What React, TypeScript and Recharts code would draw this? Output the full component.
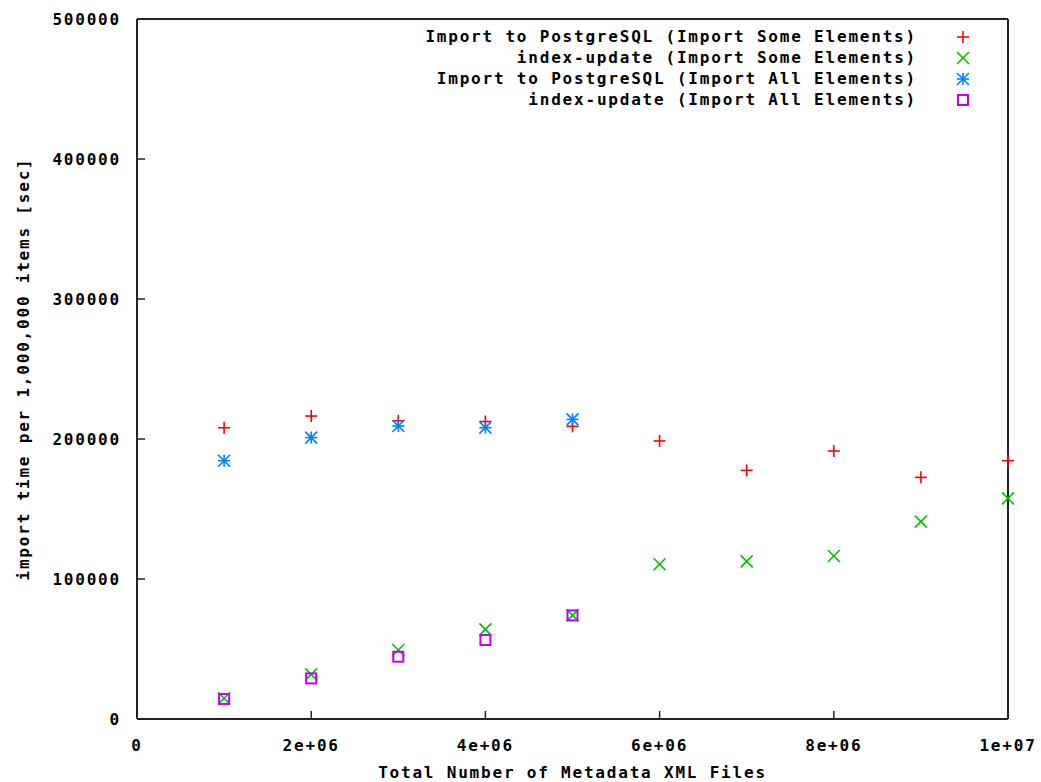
import React from 'react'
import { ScatterChart, Scatter, XAxis, YAxis, Legend } from 'recharts'

// x positions (number of metadata XML files)
const xSome = [1e6, 2e6, 3e6, 4e6, 5e6, 6e6, 7e6, 8e6, 9e6, 1e7]
const xAll = [1e6, 2e6, 3e6, 4e6, 5e6]

// seconds per 1,000,000 items
const importSome = [208000, 216400, 213000, 212500, 209000, 198600, 177600, 191400, 172600, 184500]
const indexSome = [14800, 31900, 49300, 64000, 74000, 110500, 112600, 116400, 141000, 157600]
const importAll = [184500, 201000, 209300, 208100, 214000]
const indexAll = [14300, 29000, 44500, 56400, 74000]

const xTicks = [0, 2e6, 4e6, 6e6, 8e6, 1e7]
const xTickLabels = ['0', '2e+06', '4e+06', '6e+06', '8e+06', '1e+07']
const yTicks = [0, 100000, 200000, 300000, 400000, 500000]
const yTickLabels = ['0', '100000', '200000', '300000', '400000', '500000']

const FONT = '"DejaVu Sans Mono", monospace'
const FRAME = '#222'

const toPoints = (xs: number[], ys: number[]) => xs.map((x, i) => ({ x, y: ys[i] }))

type Mark = 'plus' | 'cross' | 'star' | 'square'

function Marker({ kind, cx, cy, color }: { kind: Mark; cx: number; cy: number; color: string }) {
  const r = 6
  const sw = 1.6
  if (kind === 'plus')
    return (
      <g stroke={color} strokeWidth={sw}>
        <line x1={cx - r} y1={cy} x2={cx + r} y2={cy} />
        <line x1={cx} y1={cy - r} x2={cx} y2={cy + r} />
      </g>
    )
  if (kind === 'cross')
    return (
      <g stroke={color} strokeWidth={sw}>
        <line x1={cx - r} y1={cy - r} x2={cx + r} y2={cy + r} />
        <line x1={cx - r} y1={cy + r} x2={cx + r} y2={cy - r} />
      </g>
    )
  if (kind === 'star')
    return (
      <g stroke={color} strokeWidth={sw}>
        <line x1={cx - r} y1={cy} x2={cx + r} y2={cy} />
        <line x1={cx} y1={cy - r} x2={cx} y2={cy + r} />
        <line x1={cx - r} y1={cy - r} x2={cx + r} y2={cy + r} />
        <line x1={cx - r} y1={cy + r} x2={cx + r} y2={cy - r} />
      </g>
    )
  return <rect x={cx - 5} y={cy - 5} width={10} height={10} fill="none" stroke={color} strokeWidth={sw + 0.4} />
}

const series: { name: string; color: string; kind: Mark; data: { x: number; y: number }[] }[] = [
  { name: 'Import to PostgreSQL (Import Some Elements)', color: '#ff0000', kind: 'plus', data: toPoints(xSome, importSome) },
  { name: 'index-update (Import Some Elements)', color: '#00c000', kind: 'cross', data: toPoints(xSome, indexSome) },
  { name: 'Import to PostgreSQL (Import All Elements)', color: '#0080ff', kind: 'star', data: toPoints(xAll, importAll) },
  { name: 'index-update (Import All Elements)', color: '#c000ff', kind: 'square', data: toPoints(xAll, indexAll) },
]

const textStyle = { fontFamily: FONT, fontWeight: 700, fontSize: 16, letterSpacing: 1.8, fill: '#000' }

function BottomTick(props: any) {
  const { x, y, payload } = props
  const i = xTicks.indexOf(payload.value)
  return (
    <g>
      {i > 0 && i < xTicks.length - 1 && <line x1={x} y1={y} x2={x} y2={y - 8} stroke={FRAME} strokeWidth={1.5} />}
      <text x={x} y={y + 26} textAnchor="middle" dominantBaseline="central" style={textStyle}>
        {xTickLabels[i]}
      </text>
    </g>
  )
}

function TopTick(props: any) {
  const { x, y, payload } = props
  const i = xTicks.indexOf(payload.value)
  if (i <= 0 || i >= xTicks.length - 1) return <g />
  return <line x1={x} y1={y} x2={x} y2={y + 8} stroke={FRAME} strokeWidth={1.5} />
}

function LeftTick(props: any) {
  const { x, y, payload } = props
  const i = yTicks.indexOf(payload.value)
  return (
    <g>
      {i > 0 && i < yTicks.length - 1 && <line x1={x} y1={y} x2={x + 8} y2={y} stroke={FRAME} strokeWidth={1.5} />}
      <text x={x - 16} y={y} textAnchor="end" dominantBaseline="central" style={textStyle}>
        {yTickLabels[i]}
      </text>
    </g>
  )
}

function RightTick(props: any) {
  const { x, y, payload } = props
  const i = yTicks.indexOf(payload.value)
  if (i <= 0 || i >= yTicks.length - 1) return <g />
  return <line x1={x} y1={y} x2={x - 8} y2={y} stroke={FRAME} strokeWidth={1.5} />
}

function LegendBox() {
  return (
    <div style={{ fontFamily: FONT, fontWeight: 700, fontSize: 16, letterSpacing: 1.8, color: '#000' }}>
      {series.map((s) => (
        <div key={s.name} style={{ display: 'flex', justifyContent: 'flex-end', alignItems: 'center', height: 21 }}>
          <span style={{ whiteSpace: 'pre' }}>{s.name}</span>
          <svg width={16} height={16} style={{ marginLeft: 38 }}>
            <Marker kind={s.kind} cx={8} cy={8} color={s.color} />
          </svg>
        </div>
      ))}
    </div>
  )
}

export default function App() {
  return (
    <div style={{ position: 'absolute', left: 0, top: 0 }}>
      <ScatterChart width={1041} height={782} margin={{ top: 18, right: 32, bottom: 20, left: 17 }} style={{ background: '#fff' }}>
        <XAxis
          type="number"
          dataKey="x"
          xAxisId="bottom"
          domain={[0, 1e7]}
          ticks={xTicks}
          height={43}
          tickSize={0}
          tickMargin={0}
          tickLine={false}
          axisLine={{ stroke: FRAME, strokeWidth: 2 }}
          tick={<BottomTick />}
          interval={0}
          label={(p: any) => (
            <text
              x={p.viewBox.x + p.viewBox.width / 2}
              y={p.viewBox.y + 53}
              textAnchor="middle"
              dominantBaseline="central"
              style={textStyle}
            >
              Total Number of Metadata XML Files
            </text>
          )}
        />
        <XAxis
          type="number"
          dataKey="x"
          xAxisId="top"
          orientation="top"
          domain={[0, 1e7]}
          ticks={xTicks}
          height={1}
          tickSize={0}
          tickMargin={0}
          tickLine={false}
          axisLine={{ stroke: FRAME, strokeWidth: 2 }}
          tick={<TopTick />}
          interval={0}
        />
        <YAxis
          type="number"
          dataKey="y"
          yAxisId="left"
          domain={[0, 500000]}
          ticks={yTicks}
          width={120}
          tickSize={0}
          tickMargin={0}
          tickLine={false}
          axisLine={{ stroke: FRAME, strokeWidth: 2 }}
          tick={<LeftTick />}
          interval={0}
          label={(p: any) => (
            <text
              x={p.viewBox.x + 6}
              y={p.viewBox.y + p.viewBox.height / 2}
              textAnchor="middle"
              dominantBaseline="central"
              transform={`rotate(-90, ${p.viewBox.x + 6}, ${p.viewBox.y + p.viewBox.height / 2})`}
              style={textStyle}
            >
              import time per 1,000,000 items [sec]
            </text>
          )}
        />
        <YAxis
          type="number"
          dataKey="y"
          yAxisId="right"
          orientation="right"
          domain={[0, 500000]}
          ticks={yTicks}
          width={1}
          tickSize={0}
          tickMargin={0}
          tickLine={false}
          axisLine={{ stroke: FRAME, strokeWidth: 2 }}
          tick={<RightTick />}
          interval={0}
        />
        {series.map((s) => (
          <Scatter
            key={s.name}
            name={s.name}
            data={s.data}
            xAxisId="bottom"
            yAxisId="left"
            fill={s.color}
            isAnimationActive={false}
            shape={(p: any) => <Marker kind={s.kind} cx={p.cx} cy={p.cy} color={s.color} />}
          />
        ))}
        <Legend
          layout="vertical"
          align="center"
          verticalAlign="middle"
          wrapperStyle={{ left: 371, top: 26, width: 600 }}
          content={() => <LegendBox />}
        />
      </ScatterChart>
    </div>
  )
}
